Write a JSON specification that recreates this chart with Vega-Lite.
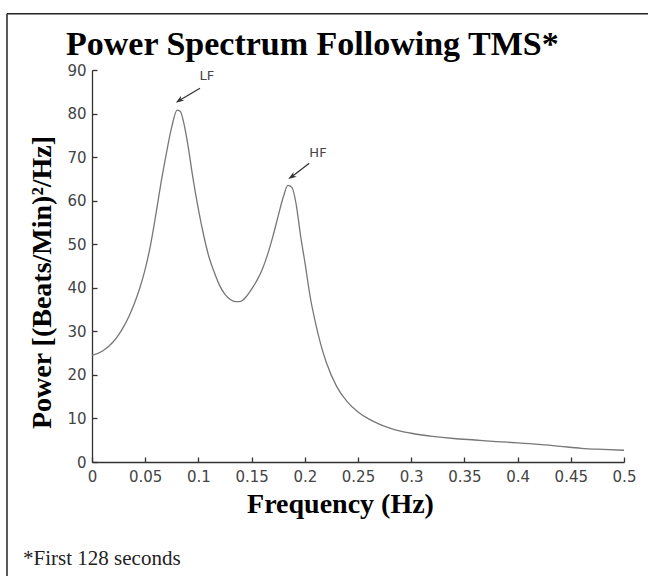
{
  "$schema": "https://vega.github.io/schema/vega-lite/v6.json",
  "autosize": {"type": "none"},
  "width": 532,
  "height": 392,
  "padding": {"left": 92, "top": 70, "right": 24, "bottom": 114},
  "background": "white",
  "config": {
    "view": {"stroke": null},
    "axis": {
      "grid": false,
      "domainColor": "#333",
      "domainWidth": 1.3,
      "tickColor": "#333",
      "tickWidth": 1.3,
      "labelFont": "DejaVu Sans",
      "labelFontSize": 15,
      "labelColor": "#444",
      "titleFont": "Liberation Serif",
      "titleFontWeight": "bold",
      "titleColor": "#000"
    }
  },
  "title": {
    "text": "Power Spectrum Following TMS*",
    "anchor": "start",
    "frame": "group",
    "dx": -26,
    "dy": 88,
    "offset": 12,
    "baseline": "alphabetic",
    "font": "Liberation Serif",
    "fontSize": 34,
    "fontWeight": "bold",
    "color": "#000"
  },
  "datasets": {
    "spectrum": [
      {"f": 0, "p": 24.5}, {"f": 0.01, "p": 25.5}, {"f": 0.02, "p": 27.6}, {"f": 0.025, "p": 29.2},
      {"f": 0.03, "p": 31.2}, {"f": 0.035, "p": 33.6}, {"f": 0.04, "p": 36.5}, {"f": 0.045, "p": 40},
      {"f": 0.05, "p": 44.3}, {"f": 0.055, "p": 49.8}, {"f": 0.06, "p": 56.8}, {"f": 0.065, "p": 64.3},
      {"f": 0.07, "p": 71}, {"f": 0.075, "p": 77}, {"f": 0.08, "p": 80.8}, {"f": 0.083, "p": 80.5},
      {"f": 0.087, "p": 77}, {"f": 0.09, "p": 73}, {"f": 0.095, "p": 65}, {"f": 0.1, "p": 58},
      {"f": 0.105, "p": 52}, {"f": 0.11, "p": 47}, {"f": 0.115, "p": 43.5}, {"f": 0.12, "p": 40.5},
      {"f": 0.125, "p": 38.5}, {"f": 0.13, "p": 37.3}, {"f": 0.135, "p": 36.8}, {"f": 0.14, "p": 36.9},
      {"f": 0.145, "p": 38}, {"f": 0.15, "p": 39.7}, {"f": 0.155, "p": 41.7}, {"f": 0.16, "p": 44.2},
      {"f": 0.165, "p": 47.6}, {"f": 0.17, "p": 51.8}, {"f": 0.175, "p": 56.5}, {"f": 0.18, "p": 61},
      {"f": 0.184, "p": 63.5}, {"f": 0.188, "p": 63}, {"f": 0.192, "p": 59}, {"f": 0.196, "p": 52},
      {"f": 0.2, "p": 46}, {"f": 0.205, "p": 38}, {"f": 0.21, "p": 32}, {"f": 0.215, "p": 27},
      {"f": 0.22, "p": 23}, {"f": 0.23, "p": 17.3}, {"f": 0.24, "p": 13.8}, {"f": 0.25, "p": 11.5},
      {"f": 0.26, "p": 9.9}, {"f": 0.27, "p": 8.7}, {"f": 0.28, "p": 7.8}, {"f": 0.29, "p": 7.1},
      {"f": 0.3, "p": 6.6}, {"f": 0.32, "p": 5.9}, {"f": 0.34, "p": 5.4}, {"f": 0.36, "p": 5.05},
      {"f": 0.38, "p": 4.7}, {"f": 0.4, "p": 4.4}, {"f": 0.42, "p": 4.05}, {"f": 0.44, "p": 3.6},
      {"f": 0.46, "p": 3.15}, {"f": 0.48, "p": 2.9}, {"f": 0.5, "p": 2.7}
    ],
    "arrows": [
      {"label": "LF", "tf": 0.1015, "tp": 85.8, "hf": 0.082, "hp": 83, "lf": 0.108, "lp": 88.7},
      {"label": "HF", "tf": 0.2042, "tp": 68.6, "hf": 0.1877, "hp": 65.5, "lf": 0.2124, "lp": 70.9}
    ],
    "one": [{}]
  },
  "layer": [
    {
      "data": {"name": "spectrum"},
      "mark": {"type": "line", "color": "#777", "strokeWidth": 1.3, "interpolate": "monotone"},
      "encoding": {
        "x": {
          "field": "f", "type": "quantitative",
          "scale": {"domain": [0, 0.5], "nice": false, "zero": false},
          "axis": {
            "title": "Frequency (Hz)",
            "values": [0, 0.05, 0.1, 0.15, 0.2, 0.25, 0.3, 0.35, 0.4, 0.45, 0.5],
            "format": "~g",
            "tickSize": -5,
            "labelPadding": 12,
            "labelFlush": false,
            "titleFontSize": 28,
            "titleX": 248,
            "titleY": 50,
            "titleAlign": "center",
            "titleBaseline": "alphabetic"
          }
        },
        "y": {
          "field": "p", "type": "quantitative",
          "scale": {"domain": [0, 90], "nice": false},
          "axis": {
            "title": "Power [(Beats/Min)²/Hz]",
            "values": [0, 10, 20, 30, 40, 50, 60, 70, 80, 90],
            "tickSize": -5,
            "labelPadding": 11,
            "labelFlush": false,
            "titleFontSize": 28,
            "titleAngle": -90,
            "titleX": -50,
            "titleY": 212,
            "titleAlign": "center",
            "titleBaseline": "middle"
          }
        }
      }
    },
    {
      "data": {"name": "arrows"},
      "mark": {"type": "rule", "color": "#333", "strokeWidth": 1.3},
      "encoding": {
        "x": {"field": "tf", "type": "quantitative"},
        "y": {"field": "tp", "type": "quantitative"},
        "x2": {"field": "hf"},
        "y2": {"field": "hp"}
      }
    },
    {
      "data": {"name": "arrows"},
      "mark": {"type": "point", "shape": "M0,-1L0.7,1L0,0.4L-0.7,1Z", "filled": true, "color": "#333", "opacity": 1, "size": 70, "angle": 236},
      "encoding": {
        "x": {"field": "hf", "type": "quantitative"},
        "y": {"field": "hp", "type": "quantitative"}
      }
    },
    {
      "data": {"name": "arrows"},
      "mark": {"type": "text", "font": "DejaVu Sans", "fontSize": 13, "color": "#444", "align": "center", "baseline": "middle"},
      "encoding": {
        "x": {"field": "lf", "type": "quantitative"},
        "y": {"field": "lp", "type": "quantitative"},
        "text": {"field": "label"}
      }
    },
    {
      "data": {"name": "one"},
      "mark": {"type": "rule", "color": "#222", "strokeWidth": 1.5},
      "encoding": {
        "x": {"datum": -0.0799, "type": "quantitative"},
        "y": {"datum": -30, "type": "quantitative"},
        "y2": {"datum": 102.9}
      }
    },
    {
      "data": {"name": "one"},
      "mark": {"type": "rule", "color": "#222", "strokeWidth": 1.5},
      "encoding": {
        "x": {"datum": -0.0799, "type": "quantitative"},
        "x2": {"datum": 0.54},
        "y": {"datum": 102.9, "type": "quantitative"}
      }
    },
    {
      "data": {"name": "one"},
      "mark": {"type": "text", "font": "Liberation Serif", "fontSize": 21, "color": "#222", "align": "left", "baseline": "alphabetic"},
      "encoding": {
        "x": {"datum": -0.0648, "type": "quantitative"},
        "y": {"datum": -23.7, "type": "quantitative"},
        "text": {"value": "*First 128 seconds"}
      }
    }
  ]
}
